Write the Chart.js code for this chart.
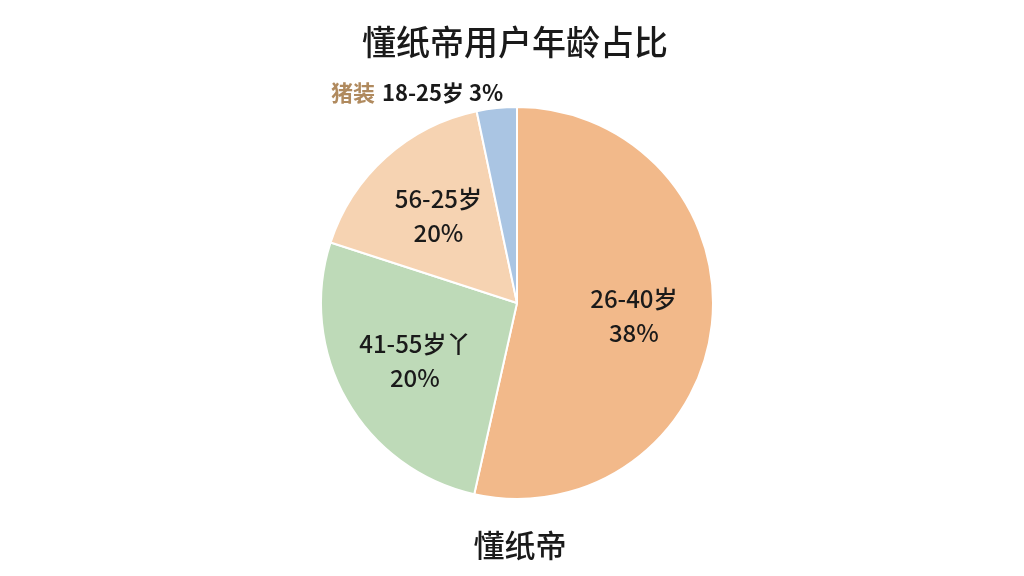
<!DOCTYPE html>
<html><head><meta charset="utf-8">
<script src="https://cdn.jsdelivr.net/npm/chart.js@4/dist/chart.umd.min.js"></script>
<style>html,body{margin:0;background:#fff;}#w{width:1024px;height:576px;}</style>
</head><body><div id="w"><canvas id="c"></canvas></div>
<script>
const titleText = "懂纸帝用户年龄占比";
const bottomText = "懂纸帝";
const categories = ["26-40岁", "41-55岁丫", "56-25岁", "18-25岁"];
const shownPercents = ["38%", "20%", "20%", "3%"];
const values = [53.5, 26.5, 16.7, 3.3];
const colors = ["#F2B98A", "#BEDAB8", "#F6D3B2", "#AAC5E3"];
const FONT = "'Noto Sans CJK SC', 'Noto Sans', sans-serif";

const labelPlugin = {
  id: 'labels',
  afterDraw(chart) {
    const ctx = chart.ctx;
    ctx.save();
    ctx.textAlign = 'center';
    ctx.textBaseline = 'middle';
    ctx.fillStyle = '#1a1a1a';
    ctx.font = "500 34px " + FONT;
    ctx.fillText(titleText, 515, 42);
    ctx.font = "500 31px " + FONT;
    ctx.fillText(bottomText, 520, 545);
    const meta = chart.getDatasetMeta(0);
    meta.data.forEach((arc, i) => {
      const mid = (arc.startAngle + arc.endAngle) / 2;
      if (i === 3) {
        ctx.font = "bold 22px " + FONT;
        ctx.textAlign = 'left';
        ctx.fillStyle = '#B08A5E';
        ctx.fillText("猪装", 331, 93);
        ctx.fillStyle = '#1a1a1a';
        ctx.fillText(categories[i] + " " + shownPercents[i], 382, 93);
        ctx.textAlign = 'center';
        return;
      }
      const r = arc.outerRadius * 0.6;
      const x = arc.x + Math.cos(mid) * r;
      const y = arc.y + Math.sin(mid) * r;
      ctx.font = "500 24px " + FONT;
      ctx.fillStyle = '#1a1a1a';
      ctx.fillText(categories[i], x, y - 17);
      ctx.fillText(shownPercents[i], x, y + 17);
    });
    ctx.restore();
  }
};

new Chart(document.getElementById('c'), {
  type: 'pie',
  data: { labels: categories, datasets: [{ data: values, backgroundColor: colors, borderColor: '#fff', borderWidth: 2 }] },
  options: {
    responsive: true, maintainAspectRatio: false, animation: false,
    layout: { padding: { top: 106, bottom: 76, left: 10, right: 0 } },
    plugins: { legend: { display: false }, tooltip: { enabled: false }, title: { display: false } }
  },
  plugins: [labelPlugin]
});
</script></body></html>
